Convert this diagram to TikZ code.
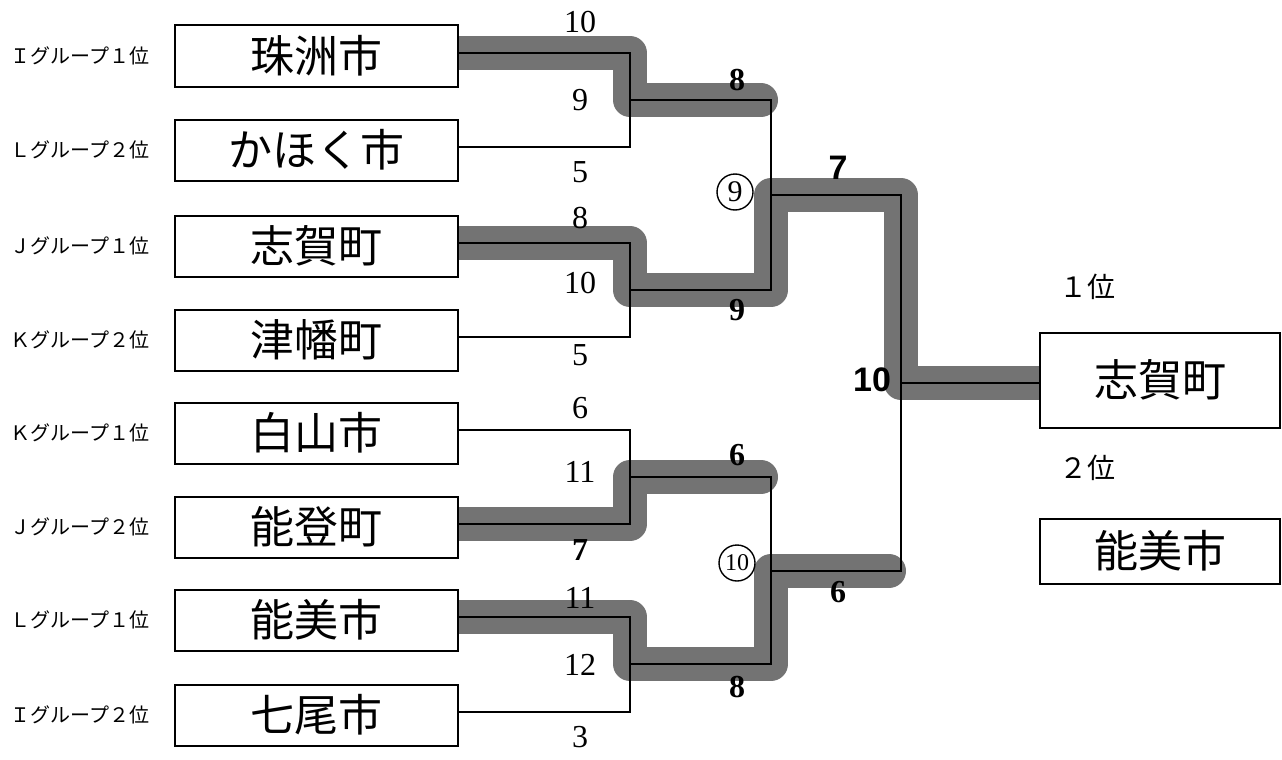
\documentclass[tikz,border=0pt]{standalone}
\usepackage{fontspec}
\setmainfont{Liberation Serif}
\newfontfamily\jp{Noto Sans CJK JP}
\newfontfamily\sansf{Liberation Sans}
\usetikzlibrary{calc}
\pgfdeclarelayer{bg}
\pgfsetlayers{bg,main}
\begin{document}
\begin{tikzpicture}[x=1pt,y=-1pt,
  team/.style={draw,line width=2pt,fill=white,minimum width=283pt,minimum height=61pt,inner sep=0pt,font=\jp\fontsize{44}{48}\selectfont},
  grp/.style={font=\jp\fontsize{20}{22}\selectfont,inner sep=0pt},
  rank/.style={font=\jp\fontsize{28}{30}\selectfont,inner sep=0pt},
  thinl/.style={line width=1.2pt},
  band/.style={line width=34pt,draw=black!55,line join=round,line cap=round},
  winl/.style={line width=2.8pt},
  sc/.style={font=\fontsize{32}{34}\selectfont,inner sep=0pt},
  scb/.style={font=\bfseries\fontsize{32}{34}\selectfont,inner sep=0pt},
  scs/.style={font=\sansf\bfseries\fontsize{34}{36}\selectfont,inner sep=0pt},
  circ/.style={circle,draw,line width=1.4pt,inner sep=1pt,minimum size=36pt,font=\fontsize{30}{32}\selectfont},
]
\useasboundingbox (0,0) rectangle (1282,760);

% team boxes
\node[team] (b1) at (316,56)  {珠洲市};
\node[team] (b2) at (316,150) {かほく市};
\node[team] (b3) at (316,246) {志賀町};
\node[team] (b4) at (316,340) {津幡町};
\node[team] (b5) at (316,433) {白山市};
\node[team] (b6) at (316,527) {能登町};
\node[team] (b7) at (316,620) {能美市};
\node[team] (b8) at (316,715) {七尾市};

% group labels
\node[grp] (g1) at (80,56)  {Ｉグループ１位};
\node[grp] (g2) at (80,150) {Ｌグループ２位};
\node[grp] (g3) at (80,246) {Ｊグループ１位};
\node[grp] (g4) at (80,340) {Ｋグループ２位};
\node[grp] (g5) at (80,433) {Ｋグループ１位};
\node[grp] (g6) at (80,527) {Ｊグループ２位};
\node[grp] (g7) at (80,620) {Ｌグループ１位};
\node[grp] (g8) at (80,715) {Ｉグループ２位};

% result boxes
\node[team,minimum width=240pt,minimum height=95pt] (c1) at (1160,380) {志賀町};
\node[team,minimum width=240pt,minimum height=65pt] (c2) at (1160,551) {能美市};
\node[rank] (r1) at (1087,287) {１位};
\node[rank] (r2) at (1087,468) {２位};

% line ends and junctions
\foreach \i in {1,...,8} { \coordinate (e\i) at ([yshift=3pt]b\i.east); }
\coordinate (q1) at (630,100);
\coordinate (q2) at (630,290);
\coordinate (q3) at (630,477);
\coordinate (q4) at (630,664);
\coordinate (s1) at (771,195);
\coordinate (s2) at (771,571);
\coordinate (f)  at (901,383);

% highlight bands
\begin{pgfonlayer}{bg}
\draw[band,shorten >=10pt] (e1) -| (q1) -- (q1 -| s1);
\draw[band] (e3) -| (q2) -| (s1) -| (f) -- (f -| c1.west);
\draw[band,shorten >=10pt] (e6) -| (q3) -- (q3 -| s2);
\draw[band,shorten >=12pt] (e7) -| (q4) -| (s2) -- (s2 -| f);
\end{pgfonlayer}

% bracket lines
\draw[thinl] (e1) -| (q1) |- (e2);
\draw[thinl] (e3) -| (q2) |- (e4);
\draw[thinl] (e5) -| (q3) |- (e6);
\draw[thinl] (e7) -| (q4) |- (e8);
\draw[thinl] (q1) -| (s1) |- (q2);
\draw[thinl] (q3) -| (s2) |- (q4);
\draw[thinl] (s1) -| (f) |- (s2);
\draw[thinl] (f) -- (f -| c1.west);

% winning lines
\draw[winl] (e1) -| (q1) -- (q1 -| s1);
\draw[winl] (e3) -| (q2) -| (s1) -| (f) -- (f -| c1.west);
\draw[winl] (e6) -| (q3) -- (q3 -| s2);
\draw[winl] (e7) -| (q4) -| (s2) -- (s2 -| f);

% scores, round 1
\node[sc]  (n1)  at (580,22)  {10};
\node[sc]  (n2)  at (580,100) {9};
\node[sc]  (n3)  at (580,172) {5};
\node[sc]  (n4)  at (580,218) {8};
\node[sc]  (n5)  at (580,283) {10};
\node[sc]  (n6)  at (580,355) {5};
\node[sc]  (n7)  at (580,408) {6};
\node[sc]  (n8)  at (580,472) {11};
\node[scb] (n9)  at (580,550) {7};
\node[sc]  (n10) at (580,598) {11};
\node[sc]  (n11) at (580,665) {12};
\node[sc]  (n12) at (580,737) {3};

% scores, round 2
\node[scb] (m1) at (737,80)  {8};
\node[scb] (m2) at (737,310) {9};
\node[scb] (m3) at (737,455) {6};
\node[scb] (m4) at (737,687) {8};
\node[circ] (k1) at (735,192) {9};
\node[circ,font=\fontsize{24}{26}\selectfont] (k2) at (737,563) {10};

% scores, final
\node[scs] (t1) at (838,168) {7};
\node[scb] (t2) at (838,592) {6};
\node[scs] (t3) at (872,380) {10};
\end{tikzpicture}
\end{document}
